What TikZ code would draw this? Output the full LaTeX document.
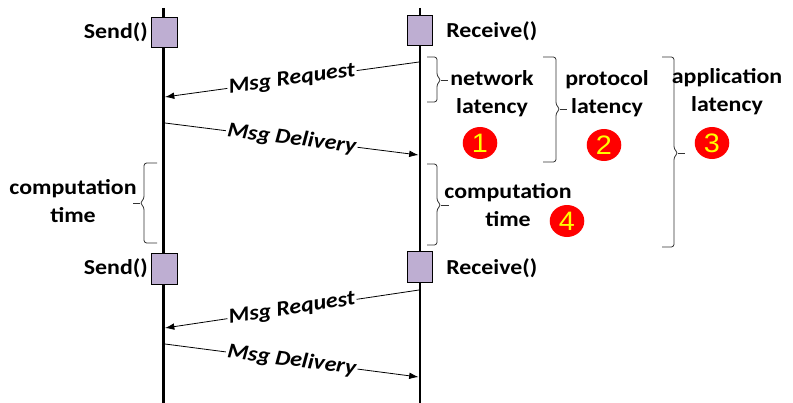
\documentclass[tikz,border=0pt]{standalone}
\usepackage{fontspec}
\setmainfont{Carlito}
\newfontfamily\numfont{Liberation Sans}
\usepackage{tikz}
\usetikzlibrary{arrows.meta}
\definecolor{callfill}{RGB}{190,174,210}
\definecolor{tagred}{RGB}{255,0,0}
\definecolor{tagyellow}{RGB}{255,255,0}
\tikzstyle{call} = [rectangle, minimum width=19pt, minimum height=23pt, inner sep=0pt, draw=black, line width=0.6pt, fill=callfill]
\tikzstyle{fname} = [inner sep=0pt, xscale=1.12, transform shape, font=\bfseries\fontsize{16}{19}\selectfont]
\tikzstyle{note} = [inner sep=0pt, align=center, xscale=1.12, transform shape, font=\bfseries\fontsize{16}{21}\selectfont]
\tikzstyle{tag} = [circle, minimum size=24pt, inner sep=0pt, xscale=1.08, transform shape, fill=tagred, text=tagyellow, font=\numfont\fontsize{20}{20}\selectfont]
\tikzstyle{lifeline} = [line width=2.2pt]
\tikzstyle{msgarrow} = [-{Latex[length=7pt,width=5pt]}, line width=0.6pt]
\tikzstyle{msglabel} = [midway, sloped, fill=white, inner xsep=1pt, inner ysep=0pt, xscale=1.12, transform shape, font=\bfseries\itshape\fontsize{16}{19}\selectfont]
\tikzstyle{bracket} = [draw=black!80, line width=0.6pt, rounded corners=2pt]

\begin{document}
\begin{tikzpicture}[x=0.75pt, y=-0.75pt]
	\useasboundingbox (0,0) rectangle (793,403);
	% lifelines
	\coordinate (ltop) at (163.5,8);
	\coordinate (lbot) at (163.5,403);
	\coordinate (rtop) at (420,8);
	\coordinate (rbot) at (420,403);
	\draw [lifeline] (ltop) -- (lbot);
	\draw [lifeline] (rtop) -- (rbot);
	
	% calls
	\node (send1) [call] at (164.5,32.5) {};
	\node (recv1) [call] at (420,30.5) {};
	\node (send2) [call] at (164.5,269) {};
	\node (recv2) [call] at (420,267) {};
	\node (send1txt) [fname, anchor=east] at (148,32) {Send()};
	\node (recv1txt) [fname, anchor=west] at (446,31) {Receive()};
	\node (send2txt) [fname, anchor=east] at (148,268) {Send()};
	\node (recv2txt) [fname, anchor=west] at (446,268) {Receive()};
	
	% messages
	\coordinate (req1a) at (419,62);
	\coordinate (req1b) at (165,97);
	\coordinate (del1a) at (165,123);
	\coordinate (del1b) at (418.5,155);
	\coordinate (req2a) at (419,290);
	\coordinate (req2b) at (165,328);
	\coordinate (del2a) at (165,344);
	\coordinate (del2b) at (418.5,377);
	\draw [msgarrow] (req1a) -- (req1b) node [msglabel] {Msg Request};
	\draw [msgarrow] (del1a) -- (del1b) node [msglabel] {Msg Delivery};
	\draw [msgarrow] (req2a) -- (req2b) node [msglabel] {Msg Request};
	\draw [msgarrow] (del2a) -- (del2b) node [msglabel] {Msg Delivery};
	
	% brackets
	\draw [bracket] (427,57) -- (437,57) -- (437,76) -- (441,80) -- (437,84) -- (437,102) -- (427,102);
	\draw [bracket] (441,80) -- (448,80);
	\draw [bracket] (543,57) -- (556,57) -- (556,105) -- (560,109) -- (556,113) -- (556,162) -- (543,162);
	\draw [bracket] (560,109) -- (567,109);
	\draw [bracket] (662,57) -- (674,57) -- (674,149) -- (678,153) -- (674,157) -- (674,247) -- (662,247);
	\draw [bracket] (678,153) -- (685,153);
	\draw [bracket] (427,164) -- (437,164) -- (437,201) -- (441,205) -- (437,209) -- (437,245) -- (427,245);
	\draw [bracket] (441,205) -- (449,205);
	\draw [bracket] (157,163) -- (144,163) -- (144,199) -- (140,203) -- (144,207) -- (144,243) -- (157,243);
	\draw [bracket] (140,203) -- (133,203);
	
	% latencies
	\node (netlat) [note] at (492,94) {network\\latency};
	\node (protlat) [note] at (607,94) {protocol\\latency};
	\node (applat) [note] at (727,92) {application\\latency};
	\node (comprt) [note] at (508,205) {computation\\time};
	\node (complt) [note] at (73,201) {computation\\time};
	\node (tag1) [tag] at (480,143) {1};
	\node (tag2) [tag] at (604,145) {2};
	\node (tag3) [tag] at (712,143) {3};
	\node (tag4) [tag] at (567,221) {4};
\end{tikzpicture}
\end{document}
